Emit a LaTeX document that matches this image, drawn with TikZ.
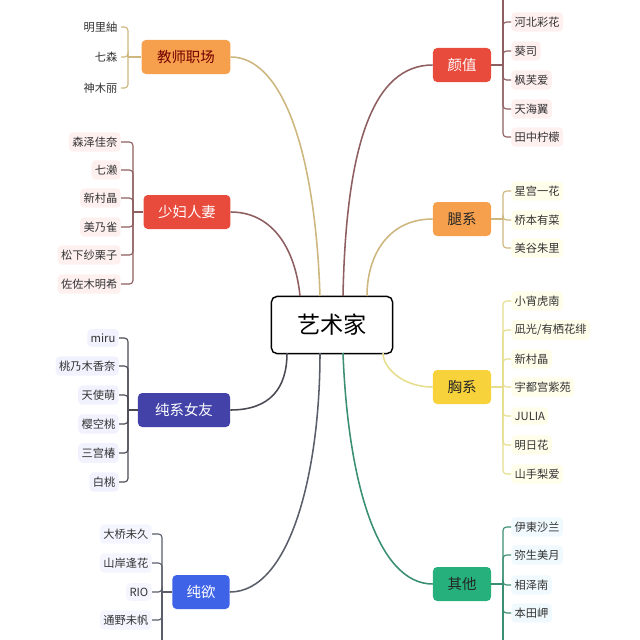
\documentclass[tikz,border=0pt]{standalone}
\usepackage{fontspec}
\setmainfont{Noto Sans CJK SC}
\usepackage{tikz}

\definecolor{orangebox}{HTML}{F6A04D}
\definecolor{redbox}{HTML}{E84A3C}
\definecolor{indigobox}{HTML}{4242A8}
\definecolor{bluebox}{HTML}{3F63E6}
\definecolor{yellowbox}{HTML}{F7D23A}
\definecolor{greenbox}{HTML}{25B07C}
\definecolor{khakiline}{HTML}{CDB77E}
\definecolor{brownline}{HTML}{8E5E60}
\definecolor{darkline}{HTML}{4A4A55}
\definecolor{grayline}{HTML}{5A5E6A}
\definecolor{yellowline}{HTML}{E6DE8C}
\definecolor{tealline}{HTML}{3A8F72}
\definecolor{leaftext}{HTML}{333333}

\begin{document}
\begin{tikzpicture}[x=0.025cm, y=-0.025cm,
    hub/.style={draw=black, line width=1pt, rounded corners=4pt, fill=white,
        minimum width=3.03cm, minimum height=1.43cm, inner sep=0pt,
        font=\fontsize{16.5}{18}\selectfont},
    branch/.style={rounded corners=3pt, minimum height=0.85cm, inner sep=0pt,
        font=\fontsize{10.3}{12}\selectfont},
    leaf/.style={font=\fontsize{8}{9}\selectfont, text=leaftext, inner xsep=2.4pt,
        inner ysep=3.2pt, rounded corners=3pt},
    twig/.style={rounded corners=2.5pt, line width=0.8pt},
    limb/.style={line width=1.1pt}]

    % Frame
    \clip (0,0) rectangle (640,640);
    \fill[white] (0,0) rectangle (640,640);

    % Centre
    \node[hub] (art) at (332,325) {艺术家};
    \coordinate (c1) at (300,296);
    \coordinate (c2) at (320,296);
    \coordinate (c3) at (343,296);
    \coordinate (c4) at (367,296);
    \coordinate (c5) at (287,353);
    \coordinate (c6) at (320,353);
    \coordinate (c7) at (343,353);
    \coordinate (c8) at (383,353);

    % Branch boxes
    \node[branch, fill=orangebox, text=red!45!black, minimum width=2.22cm] (jszc) at (186,57) {教师职场};
    \node[branch, fill=redbox, text=white, minimum width=2.17cm] (sfrq) at (187,212) {少妇人妻};
    \node[branch, fill=indigobox, text=white, minimum width=2.3cm] (cxny) at (184,410) {纯系女友};
    \node[branch, fill=bluebox, text=white, minimum width=1.43cm] (cy) at (201,592) {纯欲};
    \node[branch, fill=redbox, text=white, minimum width=1.45cm] (yz) at (462,65) {颜值};
    \node[branch, fill=orangebox, text=black!85, minimum width=1.45cm] (tx) at (462,219) {腿系};
    \node[branch, fill=yellowbox, text=black!85, minimum width=1.45cm] (xx) at (462,387) {胸系};
    \node[branch, fill=greenbox, text=black!85, minimum width=1.45cm] (qt) at (462,584) {其他};

    % Limbs from the centre
    \draw[limb, khakiline] (jszc.east) .. controls +(50,0) and +(-5,-150) .. (c2);
    \draw[limb, brownline] (sfrq.east) .. controls +(40,0) and +(-5,-50) .. (c1);
    \draw[limb, darkline] (cxny.east) .. controls +(40,0) and +(0,35) .. (c5);
    \draw[limb, grayline] (cy.east) .. controls +(60,0) and +(0,120) .. (c6);
    \draw[limb, brownline] (yz.west) .. controls +(-60,0) and +(3,-150) .. (c3);
    \draw[limb, khakiline] (tx.west) .. controls +(-45,0) and +(0,-40) .. (c4);
    \draw[limb, yellowline] (xx.west) .. controls +(-30,0) and +(0,15) .. (c8);
    \draw[limb, tealline] (qt.west) .. controls +(-55,0) and +(5,130) .. (c7);

    % 教师职场
    \coordinate (jsb) at (128,57);
    \draw[twig, khakiline] (jszc.west) -- (jsb);
    \foreach \t/\y [count=\i] in {明里紬/27, 七森/57, 神木丽/88} {
        \node[leaf, anchor=east] (js\i) at (121,\y) {\t};
        \draw[twig, khakiline] (js\i.east) -| (jsb);
    }

    % 少妇人妻
    \coordinate (sfb) at (133,212);
    \draw[twig, brownline] (sfrq.west) -- (sfb);
    \foreach \t/\y [count=\i] in {森泽佳奈/142, 七濑/170, 新村晶/198, 美乃雀/227, 松下纱栗子/255, 佐佐木明希/284} {
        \node[leaf, anchor=east, fill=red!6] (sf\i) at (121,\y) {\t};
        \draw[twig, brownline] (sf\i.east) -| (sfb);
    }

    % 纯系女友
    \coordinate (cxb) at (128,410);
    \draw[twig, darkline] (cxny.west) -- (cxb);
    \foreach \t/\y [count=\i] in {miru/338, 桃乃木香奈/366, 天使萌/395, 樱空桃/424, 三宫椿/453, 白桃/482} {
        \node[leaf, anchor=east, fill=blue!5] (cx\i) at (119,\y) {\t};
        \draw[twig, darkline] (cx\i.east) -| (cxb);
    }

    % 纯欲
    \coordinate (cyb) at (162,592);
    \coordinate (cyend) at (162,645);
    \draw[twig, grayline] (cy.west) -- (cyb);
    \draw[twig, grayline] (cyb) -- (cyend);
    \foreach \t/\y [count=\i] in {大桥未久/534, 山岸逢花/563, RIO/592, 通野未帆/620} {
        \node[leaf, anchor=east, fill=blue!4] (cy\i) at (152,\y) {\t};
        \draw[twig, grayline] (cy\i.east) -| (cyb);
    }

    % 颜值
    \coordinate (yzb) at (503,65);
    \coordinate (yzend) at (503,-5);
    \draw[twig, brownline] (yz.east) -- (yzb);
    \draw[twig, brownline] (yzb) -- (yzend);
    \foreach \t/\y [count=\i] in {河北彩花/22, 葵司/51, 枫芙爱/80, 天海翼/109, 田中柠檬/137} {
        \node[leaf, anchor=west, fill=red!6] (yz\i) at (511,\y) {\t};
        \draw[twig, brownline] (yz\i.west) -| (yzb);
    }

    % 腿系
    \coordinate (txb) at (503,219);
    \draw[twig, khakiline] (tx.east) -- (txb);
    \foreach \t/\y [count=\i] in {星宫一花/191, 桥本有菜/220, 美谷朱里/248} {
        \node[leaf, anchor=west, fill=yellow!8] (tx\i) at (511,\y) {\t};
        \draw[twig, khakiline] (tx\i.west) -| (txb);
    }

    % 胸系
    \coordinate (xxb) at (503,387);
    \draw[twig, yellowline] (xx.east) -- (xxb);
    \foreach \t/\y [count=\i] in {小宵虎南/301, {凪光/有栖花绯}/330, 新村晶/359, 宇都宫紫苑/387, JULIA/416, 明日花/445, 山手梨爱/474} {
        \node[leaf, anchor=west, fill=yellow!8] (xx\i) at (511,\y) {\t};
        \draw[twig, yellowline] (xx\i.west) -| (xxb);
    }

    % 其他
    \coordinate (qtb) at (503,584);
    \coordinate (qtend) at (503,645);
    \draw[twig, tealline] (qt.east) -- (qtb);
    \draw[twig, tealline] (qtb) -- (qtend);
    \foreach \t/\y [count=\i] in {伊東沙兰/527, 弥生美月/555, 相泽南/585, 本田岬/613} {
        \node[leaf, anchor=west, fill=cyan!6] (qt\i) at (511,\y) {\t};
        \draw[twig, tealline] (qt\i.west) -| (qtb);
    }

\end{tikzpicture}
\end{document}
